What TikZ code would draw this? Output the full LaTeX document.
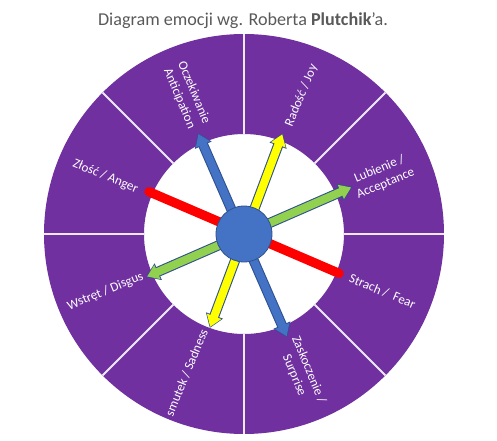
\documentclass[tikz,border=0pt]{standalone}
\usepackage{fontspec}
\setmainfont{Carlito}
\usepackage{xcolor}
\usepackage{tikz}
\usetikzlibrary{arrows.meta}

\definecolor{ringpurple}{HTML}{7030A0}
\definecolor{hubblue}{HTML}{4472C4}
\definecolor{edgeblue}{HTML}{2F528F}
\definecolor{joyyellow}{HTML}{FFFF00}
\definecolor{accgreen}{HTML}{92D050}
\definecolor{titlegray}{HTML}{595959}
\definecolor{divline}{HTML}{EEE8F5}

\tikzset{
  lbl/.style={text=white, font=\fontsize{9.8}{11.8}\selectfont, align=center, inner sep=1pt},
  divider/.style={draw=divline, line width=1.5pt},
  arrowout/.style={line width=7.6pt, draw=edgeblue,
    {Triangle[width=13pt,length=10pt]}-{Triangle[width=13pt,length=10pt]}},
  arrowin/.style={line width=6pt, shorten >=0.9pt, shorten <=0.9pt,
    {Triangle[width=11pt,length=8.4pt]}-{Triangle[width=11pt,length=8.4pt]}},
}

\begin{document}
\begin{tikzpicture}[x=0.75pt,y=0.75pt]
  \def\rin{100}\def\rout{200}
  \useasboundingbox (-244,-206) rectangle (253,234);
  \node[anchor=base, text=titlegray, font=\fontsize{13.6}{16}\selectfont] (title) at (-1,209)
    {Diagram emocji wg. Roberta \textbf{Plutchik}’a.};
  % ring of emotions
  \fill[ringpurple, even odd rule] (0,0) circle[radius=\rout] (0,0) circle[radius=\rin];
  \foreach \a in {0,45,...,315} { \draw[divider] (\a:\rin) -- (\a:\rout); }
  \node[lbl, rotate=-67.5] (tAnti) at (112.5:150) {Oczekiwanie\\Anticipation};
  \node[lbl, rotate=67.5] (tJoy) at (67.5:150) {Radość / Joy};
  \node[lbl, rotate=22.5] (tAcc) at (22.5:150) {Lubienie /\\Acceptance};
  \node[lbl, rotate=-22.5] (tFear) at (-22.5:150) {Strach /\ \ Fear};
  \node[lbl, rotate=-67.5] (tSurp) at (-67.5:150) {Zaskoczenie /\\Surprise};
  \node[lbl, rotate=67.5] (tSad) at (-112.5:150) {smutek / Sadness};
  \node[lbl, rotate=22.5] (tDisg) at (-157.5:150) {Wstręt / Disgus};
  \node[lbl, rotate=-22.5] (tAng) at (157.5:150) {Złość / Anger};
  % arrow ends
  \coordinate (antiEnd) at (114.5:111); \coordinate (surpEnd) at (-67.3:112);
  \coordinate (joyEnd) at (69:108);     \coordinate (sadEnd) at (-110:100);
  \coordinate (accEnd) at (23.5:118);   \coordinate (disgEnd) at (203.7:107);
  \coordinate (angEnd) at (156:104);    \coordinate (fearEnd) at (-22.5:103);
  \foreach \s/\e/\c in {antiEnd/surpEnd/hubblue, joyEnd/sadEnd/joyyellow, accEnd/disgEnd/accgreen} {
    \draw[arrowout] (\s) -- (\e);
    \draw[arrowin, \c] (\s) -- (\e);
  }
  \draw[line width=7pt, red, line cap=round] (angEnd) -- (fearEnd);
  \node[circle, fill=hubblue, draw=edgeblue, line width=0.6pt, minimum size=42pt, inner sep=0pt] (hub) at (0,0) {};
\end{tikzpicture}
\end{document}
